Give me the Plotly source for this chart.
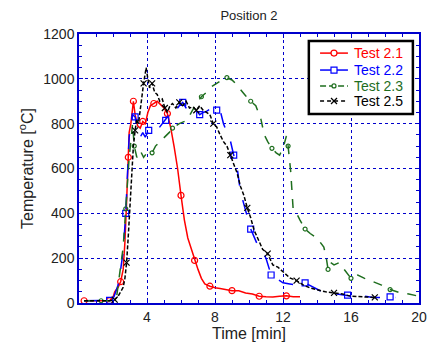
import plotly.graph_objects as go

# Test 2.1
t21 = [0.3, 0.7, 1.1, 1.5, 1.8, 2.0, 2.1, 2.3, 2.45, 2.6, 2.7, 2.8, 2.9, 2.95, 3.05, 3.15, 3.2,
       3.3, 3.45, 3.6, 3.75, 3.9, 4.05, 4.2, 4.4, 4.6, 4.8, 5.0, 5.2, 5.4, 5.6, 5.8, 6.0, 6.2,
       6.4, 6.6, 6.8, 7.0, 7.2, 7.4, 7.7, 8.0, 8.3, 8.6, 9.0, 9.4, 9.8, 10.2, 10.6, 11.0, 11.4,
       11.8, 12.2, 12.6, 13.0]
T21 = [10, 10, 10, 10, 10, 25, 50, 70, 95, 150, 270, 450, 650, 760, 800, 870, 900,
       840, 790, 780, 810, 800, 850, 880, 890, 900, 885, 870, 845, 780, 695, 600, 480, 370,
       290, 240, 190, 150, 110, 85, 75, 68, 65, 62, 55, 55, 45, 40, 30, 28, 27,
       30, 32, 28, 28]

# Test 2.2
t22 = [0.3, 0.8, 1.3, 1.8, 2.05, 2.3, 2.45, 2.6, 2.75, 2.85, 2.95, 3.05, 3.15, 3.3, 3.45, 3.6,
       3.75, 3.9, 4.1, 4.3, 4.5, 4.7, 4.9, 5.1, 5.3, 5.5, 5.7, 5.9, 6.1, 6.3, 6.5, 6.7, 6.9,
       7.1, 7.3, 7.5, 7.7, 7.9, 8.1, 8.3, 8.5, 8.7, 8.9, 9.1, 9.3, 9.5, 9.7, 9.9, 10.1, 10.3,
       10.5, 10.75, 11.0, 11.3, 11.6, 12.0, 12.4, 12.8, 13.3, 13.8, 14.3, 14.8, 15.3, 15.8,
       16.3, 16.8, 17.3, 17.8, 18.3, 18.6]
T22 = [10, 10, 10, 12, 27, 80, 150, 230, 400, 600, 740, 800, 840, 830, 770, 740,
       760, 740, 770, 780, 790, 780, 800, 815, 840, 870, 860, 880, 895, 870, 850, 845, 860,
       840, 850, 855, 865, 870, 860, 860, 800, 760, 725, 660, 605, 495, 440, 385, 330, 295,
       260, 235, 200, 125, 110, 90, 85, 80, 90, 70, 50, 45, 40, 35,
       27, 30, 25, 25, 27, 25]

# Test 2.3
t23 = [0.3, 0.8, 1.3, 1.8, 2.2, 2.4, 2.6, 2.75, 2.85, 2.95, 3.05, 3.15, 3.25, 3.4, 3.6, 3.8,
       4.05, 4.3, 4.5, 4.76, 5.0, 5.3, 5.5, 5.9, 6.35, 6.6, 6.9, 7.2, 7.5, 7.8, 8.1, 8.4, 8.7,
       9.0, 9.2, 9.5, 9.8, 10.1, 10.4, 10.7, 10.9, 11.1, 11.35, 11.6, 11.8, 12.0, 12.2, 12.3,
       12.45, 12.6, 12.8, 13.0, 13.3, 13.6, 14.0, 14.4, 14.55, 14.65, 14.8, 15.0, 15.3, 15.6,
       16.0, 16.4, 16.8, 17.3, 17.8, 18.3, 18.9, 19.4, 20.0]
T23 = [10, 10, 10, 10, 20, 140, 250, 420, 560, 650, 720, 800, 700, 650, 680, 650,
       675, 670, 700, 720, 735, 760, 780, 800, 815, 850, 890, 920, 940, 965, 980, 995, 1005,
       995, 980, 950, 925, 900, 880, 820, 750, 720, 690, 670, 660, 690, 745, 700,
       590, 415, 400, 370, 330, 310, 290, 250, 200, 150, 180, 170, 180, 150,
       110, 125, 110, 95, 80, 60, 45, 40, 30]

# Test 2.5
t25 = [0.3, 0.8, 1.3, 1.8, 2.1, 2.3, 2.45, 2.6, 2.7, 2.8, 2.9, 3.0, 3.1, 3.2, 3.3, 3.4, 3.5,
       3.6, 3.7, 3.8, 3.9, 3.95, 4.05, 4.15, 4.3, 4.45, 4.6, 4.75, 4.9, 5.05, 5.2, 5.35, 5.5,
       5.7, 5.9, 6.1, 6.3, 6.5, 6.7, 6.9, 7.1, 7.3, 7.5, 7.7, 7.9, 8.1, 8.3, 8.5, 8.7, 8.9,
       9.1, 9.3, 9.5, 9.7, 9.9, 10.1, 10.3, 10.5, 10.8, 11.1, 11.4, 11.7, 12.0, 12.4, 12.8,
       13.2, 13.6, 14.0, 14.5, 15.0, 15.5, 16.0, 16.5, 17.0, 17.4]
T25 = [10, 10, 10, 10, 15, 30, 50, 70, 110, 180, 300, 450, 560, 700, 770, 820, 800,
       850, 920, 980, 1040, 1050, 1000, 960, 980, 940, 930, 900, 910, 870, 850, 880, 890,
       870, 895, 880, 900, 870, 875, 860, 880, 860, 850, 840, 800, 785, 750, 720, 700, 660,
       625, 580, 520, 480, 424, 380, 325, 290, 240, 220, 170, 160, 140, 112, 100,
       80, 67, 60, 50, 45, 40, 30, 28, 27, 25]

RED = "#ff0000"
BLUE = "#0000ff"
GREEN = "#1e6e1e"
BLACK = "#000000"
AXIS_BLUE = "#0000cc"
TEXT = "#222222"
FONT = "Liberation Sans, Arial"

# name, data, colour, plot dash, key dash, marker symbol, marker size
series = [
    ("Test 2.1", t21, T21, RED, "solid", "solid", "circle-open", 6),
    ("Test 2.2", t22, T22, BLUE, "longdash", "solid", "square-open", 6),
    ("Test 2.3", t23, T23, GREEN, "dash", "6px,3px", "circle-open", 4),
    ("Test 2.5", t25, T25, BLACK, "4px,2px", "4px,3px", "x-thin-open", 6),
]

fig = go.Figure()
for name, t, T, col, dash, _, sym, ms in series:
    fig.add_trace(go.Scatter(
        x=t, y=T, mode="lines+markers", name=name, showlegend=False,
        line=dict(color=col, width=1.5, dash=dash),
        marker=dict(symbol=sym, size=ms, color=col, maxdisplayed=16,
                    line=dict(color=col, width=1.2)),
    ))

# Compact key box in paper coordinates (plot area = 0..1)
key_left, key_right, key_top, key_bottom = 0.676, 0.982, 0.974, 0.703
row_y = [0.929, 0.866, 0.807, 0.751]
sample_x0, sample_x1, text_x = 0.709, 0.791, 0.803
sample_xc = (sample_x0 + sample_x1) / 2

fig.add_shape(type="rect", xref="paper", yref="paper",
              x0=key_left, x1=key_right, y0=key_bottom, y1=key_top,
              line=dict(color="black", width=2.5), fillcolor="white", layer="above")


def key_glyph(sym, col, yy, half):
    """Small marker glyph centred on the key sample line."""
    common = dict(xref="paper", yref="paper", xsizemode="pixel", ysizemode="pixel",
                  xanchor=sample_xc, yanchor=yy, layer="above")
    if sym == "circle-open":
        fig.add_shape(type="circle", x0=-half, x1=half, y0=-half, y1=half,
                      line=dict(color=col, width=1.2), fillcolor="white", **common)
    elif sym == "square-open":
        fig.add_shape(type="rect", x0=-half, x1=half, y0=-half, y1=half,
                      line=dict(color=col, width=1.2), fillcolor="white", **common)
    else:
        fig.add_shape(type="line", x0=-half, x1=half, y0=-half, y1=half,
                      line=dict(color=col, width=1.2), **common)
        fig.add_shape(type="line", x0=-half, x1=half, y0=half, y1=-half,
                      line=dict(color=col, width=1.2), **common)


for (name, _, _, col, _, kdash, sym, ms), yy in zip(series, row_y):
    fig.add_shape(type="line", xref="paper", yref="paper",
                  x0=sample_x0, x1=sample_x1, y0=yy, y1=yy,
                  line=dict(color=col, width=1.5, dash=kdash), layer="above")
    key_glyph(sym, col, yy, ms / 2)
    fig.add_annotation(x=text_x, y=yy, xref="paper", yref="paper", text=name,
                       showarrow=False, xanchor="left", yanchor="middle",
                       font=dict(family=FONT, size=14, color=col))

axis_common = dict(
    showline=True, linecolor=AXIS_BLUE, linewidth=1.5, mirror="ticks",
    ticks="inside", tickcolor=AXIS_BLUE, ticklen=4, tickwidth=1,
    showgrid=True, gridcolor=AXIS_BLUE, griddash="dot", gridwidth=1,
    zeroline=False,
    tickfont=dict(family=FONT, size=14, color=TEXT),
)

fig.update_xaxes(
    range=[0, 20], tickvals=[4, 8, 12, 16, 20],
    minor=dict(dtick=1, ticks="inside", ticklen=3, tickcolor=AXIS_BLUE, showgrid=False),
    title=dict(text="Time [min]", font=dict(family=FONT, size=16, color=TEXT), standoff=2),
    automargin=False,
    **axis_common,
)
fig.update_yaxes(
    range=[0, 1200], dtick=200,
    minor=dict(dtick=50, ticks="inside", ticklen=3, tickcolor=AXIS_BLUE, showgrid=False),
    title=dict(text="Temperature [<sup>o</sup>C]",
               font=dict(family=FONT, size=16, color=TEXT), standoff=6),
    automargin=False,
    **axis_common,
)

fig.update_layout(
    width=427, height=347,
    margin=dict(l=79, r=8, t=34, b=44),
    paper_bgcolor="white", plot_bgcolor="white",
    title=dict(text="Position 2", x=(79 + 419) / 2 / 427, xanchor="center", y=0.955, yanchor="middle",
               font=dict(family=FONT, size=13, color=TEXT)),
    showlegend=False,
)

fig.write_html("out.html")
